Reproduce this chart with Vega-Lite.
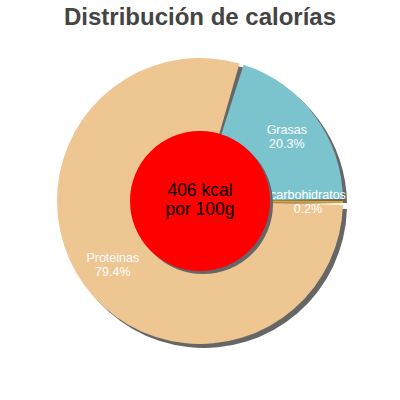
{
  "$schema": "https://vega.github.io/schema/vega-lite/v6.json",
  "autosize": "none",
  "width": 400,
  "height": 342,
  "padding": {"top": 30, "left": 0, "right": 0, "bottom": 28},
  "background": "white",
  "title": {
    "text": "Distribución de calorías",
    "font": "Liberation Sans",
    "fontSize": 24,
    "fontWeight": "bold",
    "color": "#444444",
    "anchor": "middle",
    "offset": 0
  },
  "layer": [
    {
      "data": {"name": "macros"},
      "mark": {
        "type": "arc",
        "outerRadius": 143,
        "padAngle": 0.03,
        "color": "#666666",
        "x": {"expr": "width/2 + 4"},
        "y": {"expr": "height/2 + 4"}
      },
      "encoding": {
        "theta": {"field": "valor", "type": "quantitative", "stack": true, "scale": {"range": [0.295, 6.578]}},
        "order": {"field": "orden", "type": "quantitative"}
      }
    },
    {
      "data": {"name": "macros"},
      "mark": {"type": "arc", "outerRadius": 143, "padAngle": 0.03},
      "encoding": {
        "theta": {"field": "valor", "type": "quantitative", "stack": true},
        "order": {"field": "orden", "type": "quantitative"},
        "color": {
          "field": "nutriente",
          "type": "nominal",
          "scale": {
            "domain": ["Grasas", "carbohidratos", "Proteinas"],
            "range": ["#7bc4cd", "#e3a523", "#eec691"]
          },
          "legend": null
        },
        "stroke": {"value": "#e3a523"},
        "strokeWidth": {
          "condition": {"test": "datum.nutriente == 'carbohidratos'", "value": 2},
          "value": 0
        }
      }
    },
    {
      "data": {"name": "macros"},
      "mark": {
        "type": "text",
        "radius": 108,
        "font": "Liberation Sans",
        "fontSize": 12.5,
        "color": "white",
        "align": "center",
        "baseline": "middle",
        "dy": -7
      },
      "encoding": {
        "theta": {"field": "valor", "type": "quantitative", "stack": true},
        "order": {"field": "orden", "type": "quantitative"},
        "text": {"field": "nutriente", "type": "nominal"}
      }
    },
    {
      "data": {"name": "macros"},
      "transform": [{"calculate": "format(datum.valor, '.1f') + '%'", "as": "pct"}],
      "mark": {
        "type": "text",
        "radius": 108,
        "font": "Liberation Sans",
        "fontSize": 12.5,
        "color": "white",
        "align": "center",
        "baseline": "middle",
        "dy": 7
      },
      "encoding": {
        "theta": {"field": "valor", "type": "quantitative", "stack": true},
        "order": {"field": "orden", "type": "quantitative"},
        "text": {"field": "pct", "type": "nominal"}
      }
    },
    {
      "data": {"name": "centro"},
      "mark": {
        "type": "arc",
        "outerRadius": 70,
        "color": "#666666",
        "x": {"expr": "width/2 + 3"},
        "y": {"expr": "height/2 + 3"}
      },
      "encoding": {}
    },
    {
      "data": {"name": "centro"},
      "mark": {"type": "arc", "outerRadius": 70, "color": "#ff0000"},
      "encoding": {}
    },
    {
      "data": {"name": "centro"},
      "mark": {
        "type": "text",
        "font": "Liberation Sans",
        "fontSize": 17.5,
        "color": "black",
        "align": "center",
        "baseline": "middle",
        "dy": -10
      },
      "encoding": {"text": {"field": "kcal", "type": "nominal"}}
    },
    {
      "data": {"name": "centro"},
      "mark": {
        "type": "text",
        "font": "Liberation Sans",
        "fontSize": 17.5,
        "color": "black",
        "align": "center",
        "baseline": "middle",
        "dy": 9
      },
      "encoding": {"text": {"field": "base", "type": "nominal"}}
    }
  ],
  "datasets": {
    "macros": [
      {"nutriente": "Grasas", "valor": 20.3, "orden": 1},
      {"nutriente": "carbohidratos", "valor": 0.2, "orden": 2},
      {"nutriente": "Proteinas", "valor": 79.4, "orden": 3}
    ],
    "centro": [{"kcal": "406 kcal", "base": "por 100g"}]
  }
}
